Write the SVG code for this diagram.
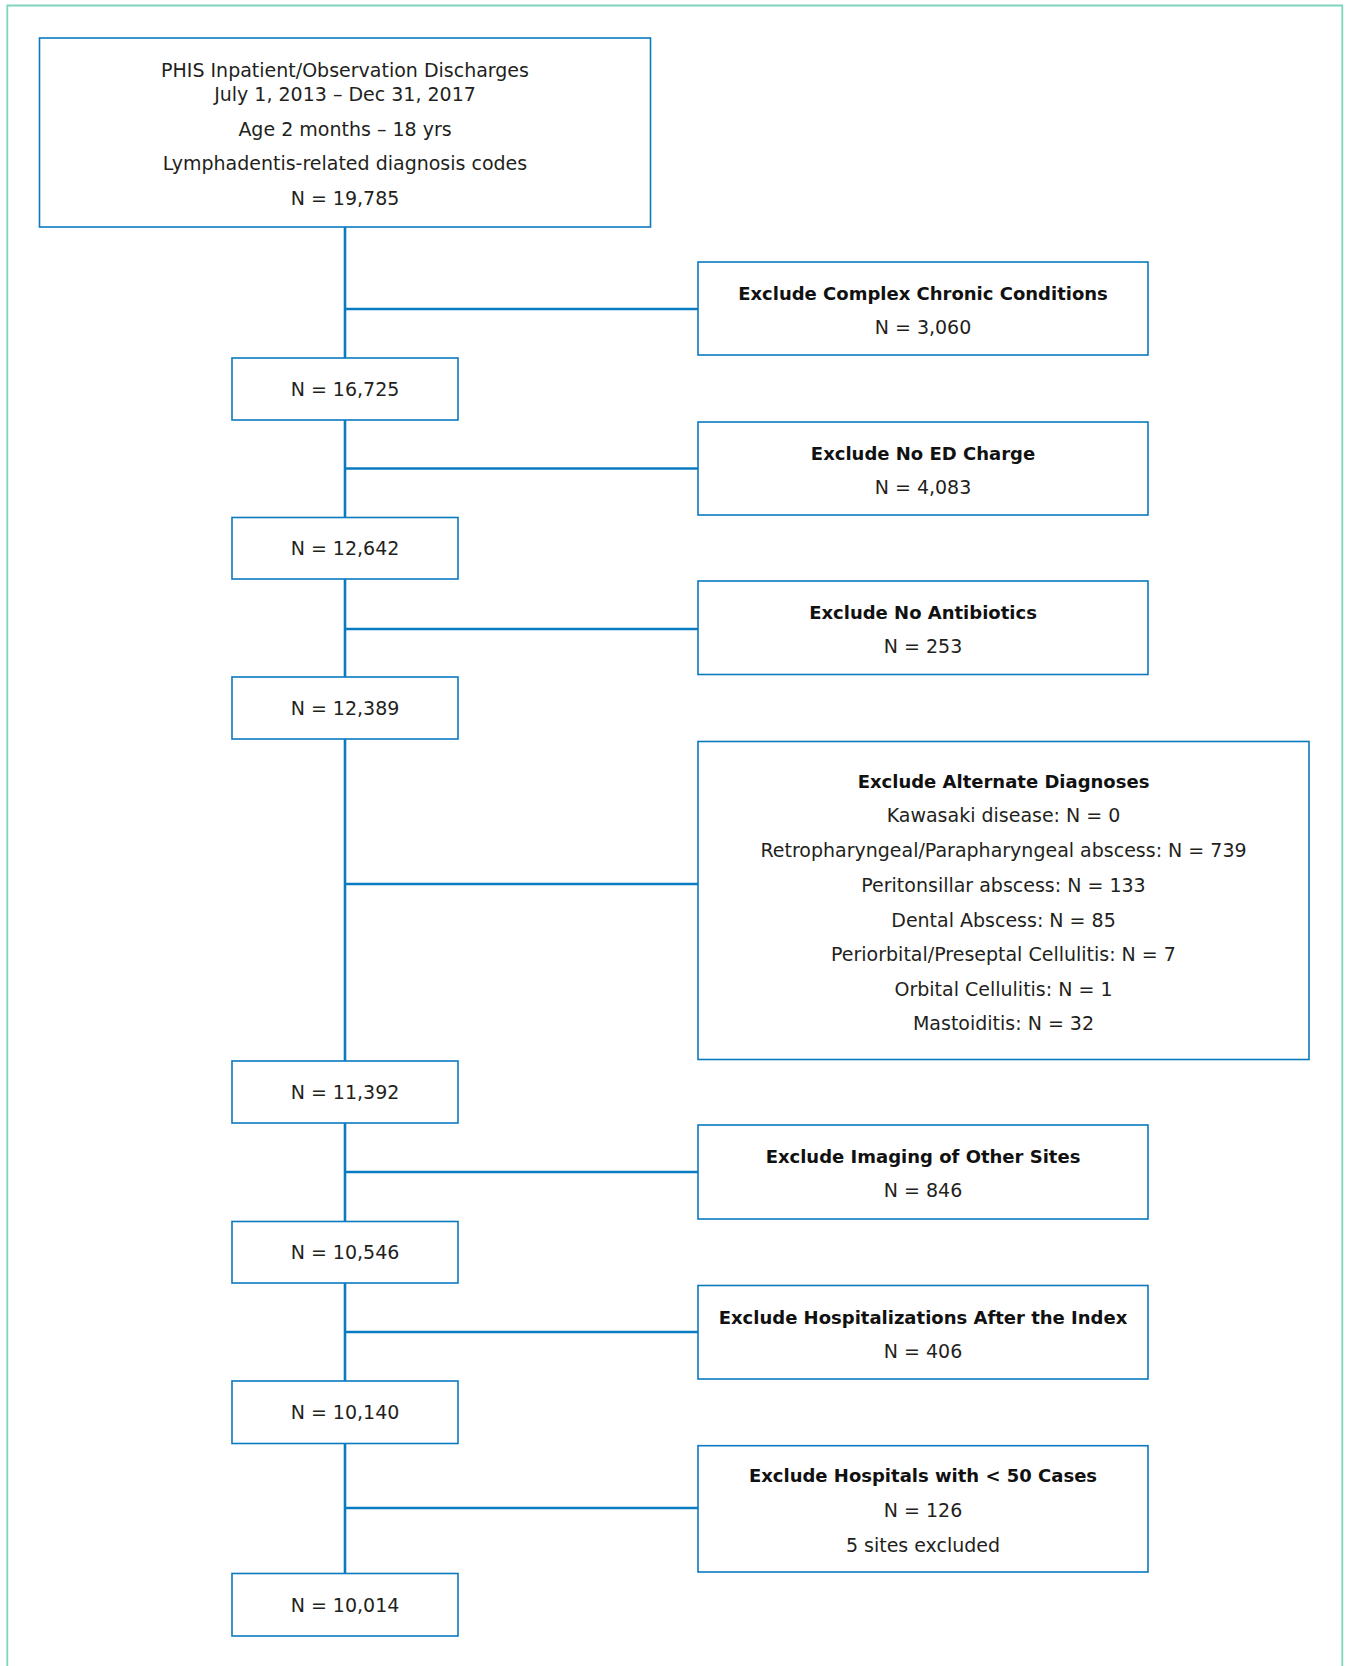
<svg xmlns="http://www.w3.org/2000/svg" width="1349" height="1666" viewBox="0 0 1349 1666">
<style>
.box{fill:#fff;stroke:#0b7bc0;stroke-width:1.6}
.conn{stroke:#0b7bc0;stroke-width:2.6;fill:none}
.t{font-family:"DejaVu Sans",sans-serif;font-size:19px;fill:#231f20;text-anchor:middle}
.b{font-family:"DejaVu Sans",sans-serif;font-size:18px;font-weight:bold;fill:#111;text-anchor:middle}
</style>
<rect width="1349" height="1666" fill="#fff"/>
<path d="M7.3,1666 V5.5 H1342.3 V1666" fill="none" stroke="#7fd4be" stroke-width="1.8"/>
<g id="connectors">
<path class="conn" d="M345,227 V358 M345,420 V517.5 M345,579 V677 M345,739 V1061 M345,1123 V1221.5 M345,1283 V1381 M345,1443.5 V1573.5"/>
<path class="conn" d="M345,309 H698 M345,468.5 H698 M345,629 H698 M345,884 H698 M345,1172 H698 M345,1332 H698 M345,1508 H698"/>
</g>
<g id="n_start">
<rect class="box" x="39.5" y="38" width="611" height="189"/>
<text class="t" x="345" y="77">PHIS Inpatient/Observation Discharges</text>
<text class="t" x="345" y="101">July 1, 2013 – Dec 31, 2017</text>
<text class="t" x="345" y="136">Age 2 months – 18 yrs</text>
<text class="t" x="345" y="170">Lymphadentis-related diagnosis codes</text>
<text class="t" x="345" y="205">N = 19,785</text>
</g>
<g id="x_ccc">
<rect class="box" x="698" y="262" width="450" height="93"/>
<text class="b" x="923" y="300">Exclude Complex Chronic Conditions</text>
<text class="t" x="923" y="334">N = 3,060</text>
</g>
<g id="n_16725">
<rect class="box" x="232" y="358" width="226" height="62"/>
<text class="t" x="345" y="395.7">N = 16,725</text>
</g>
<g id="x_ed">
<rect class="box" x="698" y="422" width="450" height="93"/>
<text class="b" x="923" y="460">Exclude No ED Charge</text>
<text class="t" x="923" y="494">N = 4,083</text>
</g>
<g id="n_12642">
<rect class="box" x="232" y="517.5" width="226" height="61.5"/>
<text class="t" x="345" y="555">N = 12,642</text>
</g>
<g id="x_abx">
<rect class="box" x="698" y="581" width="450" height="93.5"/>
<text class="b" x="923" y="619">Exclude No Antibiotics</text>
<text class="t" x="923" y="653">N = 253</text>
</g>
<g id="n_12389">
<rect class="box" x="232" y="677" width="226" height="62"/>
<text class="t" x="345" y="714.7">N = 12,389</text>
</g>
<g id="x_alt">
<rect class="box" x="698" y="741.5" width="611" height="318"/>
<text class="b" x="1003.5" y="788">Exclude Alternate Diagnoses</text>
<text class="t" x="1003.5" y="822">Kawasaki disease: N = 0</text>
<text class="t" x="1003.5" y="857">Retropharyngeal/Parapharyngeal abscess: N = 739</text>
<text class="t" x="1003.5" y="892">Peritonsillar abscess: N = 133</text>
<text class="t" x="1003.5" y="926.5">Dental Abscess: N = 85</text>
<text class="t" x="1003.5" y="961">Periorbital/Preseptal Cellulitis: N = 7</text>
<text class="t" x="1003.5" y="995.5">Orbital Cellulitis: N = 1</text>
<text class="t" x="1003.5" y="1030">Mastoiditis: N = 32</text>
</g>
<g id="n_11392">
<rect class="box" x="232" y="1061" width="226" height="62"/>
<text class="t" x="345" y="1098.7">N = 11,392</text>
</g>
<g id="x_img">
<rect class="box" x="698" y="1125" width="450" height="94"/>
<text class="b" x="923" y="1163">Exclude Imaging of Other Sites</text>
<text class="t" x="923" y="1197">N = 846</text>
</g>
<g id="n_10546">
<rect class="box" x="232" y="1221.5" width="226" height="61.5"/>
<text class="t" x="345" y="1259">N = 10,546</text>
</g>
<g id="x_hosp">
<rect class="box" x="698" y="1285.5" width="450" height="93.5"/>
<text class="b" x="923" y="1323.5">Exclude Hospitalizations After the Index</text>
<text class="t" x="923" y="1357.5">N = 406</text>
</g>
<g id="n_10140">
<rect class="box" x="232" y="1381" width="226" height="62.5"/>
<text class="t" x="345" y="1419">N = 10,140</text>
</g>
<g id="x_sites">
<rect class="box" x="698" y="1445.7" width="450" height="126.3"/>
<text class="b" x="923" y="1482">Exclude Hospitals with &lt; 50 Cases</text>
<text class="t" x="923" y="1517">N = 126</text>
<text class="t" x="923" y="1552">5 sites excluded</text>
</g>
<g id="n_10014">
<rect class="box" x="232" y="1573.5" width="226" height="62.5"/>
<text class="t" x="345" y="1611.5">N = 10,014</text>
</g>
</svg>
